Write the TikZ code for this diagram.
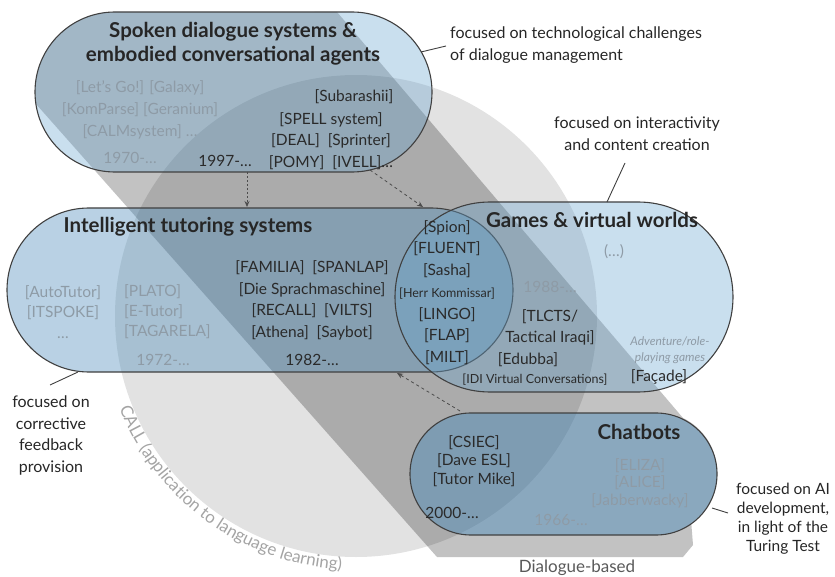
\documentclass[tikz,border=0pt]{standalone}
\usepackage{fontspec}
\setmainfont{Lato}
\usetikzlibrary{arrows.meta}
\usetikzlibrary{decorations.text}

\definecolor{callGray}{HTML}{E2E2E2}
\definecolor{boxBlue}{HTML}{6AA5CF}
\definecolor{deepBlue}{HTML}{4F8DBB}
\definecolor{itemDark}{HTML}{2A2A2A}
\definecolor{itemGray}{HTML}{8E9BA6}
\definecolor{borderGray}{HTML}{404040}
\definecolor{callText}{HTML}{A4A4A4}

\tikzset{
  box/.style={fill=boxBlue, fill opacity=0.36, draw=borderGray, line width=1.1pt},
  deepbox/.style={box, fill=deepBlue, fill opacity=0.4},
  title/.style={font=\fontsize{20.5}{24}\selectfont\bfseries, text=black!85, align=center, inner sep=0pt},
  item/.style={font=\fontsize{15.5}{21.7}\selectfont, text=itemDark, align=center, inner sep=0pt},
  olditem/.style={item, text=itemGray},
  note/.style={font=\fontsize{16}{21.7}\selectfont, text=black!85, align=center, inner sep=0pt},
  pointer/.style={draw=black!75, line width=0.9pt},
  arr/.style={-{Stealth[length=6pt,width=5pt]}, draw=black!70, dashed, line width=0.8pt}
}

\begin{document}
\begin{tikzpicture}[x=1pt, y=-1pt]
	\useasboundingbox (0,0) rectangle (835,577);

	% CALL circle
	\def \callRadius {241};
	\coordinate (callCentre) at (356,316);
	\fill [callGray] (callCentre) circle [radius=\callRadius];
	\path [decorate, decoration={text along path, text align=center,
		text={|\color{callText}\fontsize{17}{17}\selectfont|CALL (application to language learning)}}]
		(callCentre) ++(-198:254) arc [start angle=-198, end angle=-270, radius=254];

	% dialogue-based band
	\fill [black, fill opacity=0.24] (36,104) arc [start angle=-188.6, end angle=-90, radius=80]
		-- (337,12) -- (683,418) arc [start angle=-64, end angle=55, radius=61]
		-- (693,545) -- (683,557) -- (437,557) -- cycle;
	\node [font=\fontsize{17}{17}\selectfont, text=black!65] (dialogueLabel) at (577,568) {Dialogue-based};

	% boxes
	\draw [box, rounded corners=79.9] (35,12) rectangle (432,172);
	\draw [deepbox, rounded corners=81.9] (7,208) rectangle (513,372);
	\draw [box, rounded corners=94.9] (395,202) rectangle (733,392);
	\draw [deepbox, fill opacity=0.48, rounded corners=60.9] (410,413) rectangle (717,535);

	% spoken dialogue systems
	\node [title] (sdsTitle) at (233,44) {Spoken dialogue systems \&\\embodied conversational agents};
	\node [olditem] (sdsOld) at (140,110) {[Let's Go!] [Galaxy]\\{}[KomParse] [Geranium]\\{}[CALMsystem] …};
	\node [olditem] (sdsOldYear) at (130,158) {1970-…};
	\node [item] (sdsSubarashii) at (354,97) {[Subarashii]};
	\node [item] (sdsNew) at (331,141) {[SPELL system]\\{}[DEAL]\ \ [Sprinter]\\{}[POMY]\ \ [IVELL]…};
	\node [item] (sdsNewYear) at (225,161) {1997-…};

	% intelligent tutoring systems
	\node [title] (itsTitle) at (188,227) {Intelligent tutoring systems};
	\node [olditem, font=\fontsize{15.5}{20.5}\selectfont] (itsOldA) at (63,312) {[AutoTutor]\\{}[ITSPOKE]\\…};
	\node [olditem, font=\fontsize{15.5}{20}\selectfont, anchor=west, align=left] (itsOldB) at (124,312) {[PLATO]\\{}[E-Tutor]\\{}[TAGARELA]};
	\node [olditem] (itsOldYear) at (163,360) {1972-…};
	\node [item] (itsNew) at (312,300.5) {[FAMILIA]\ \ [SPANLAP]\\{}[Die Sprachmaschine]\\{}[RECALL]\ \ [VILTS]\\{}[Athena]\ \ [Saybot]};
	\node [item] (itsNewYear) at (312,360) {1982-…};

	% overlap of tutoring and games
	\node [item] (lensItems) at (447,292.5) {[Spion]\\{}[FLUENT]\\{}[Sasha]\\{\fontsize{12.5}{21.7}\selectfont[Herr Kommissar]}\\{}[LINGO]\\{}[FLAP]\\{}[MILT]};

	% games and virtual worlds
	\node [title] (gamesTitle) at (592,220) {Games \& virtual worlds};
	\node [olditem] (gamesOld) at (614,252) {(…)};
	\node [olditem] (gamesOldYear) at (550,287) {1988-…};
	\node [item] (gamesTlcts) at (550,327.5) {[TLCTS/\\Tactical Iraqi]};
	\node [item] (gamesEdubba) at (528,360) {[Edubba]};
	\node [item, font=\fontsize{12.5}{14}\selectfont] (gamesIdi) at (535,380) {[IDI Virtual Conversations]};
	\node [olditem, font=\fontsize{12}{16}\selectfont\itshape] (gamesGenre) at (670,350) {Adventure/role-\\playing games};
	\node [item] (gamesFacade) at (659,377) {[Façade]};

	% chatbots
	\node [title] (chatTitle) at (639,432) {Chatbots};
	\node [item, font=\fontsize{15.5}{18.5}\selectfont] (chatNew) at (474,461) {[CSIEC]\\{}[Dave ESL]\\{}[Tutor Mike]};
	\node [item] (chatNewYear) at (452,513) {2000-…};
	\node [olditem, font=\fontsize{15.5}{17.5}\selectfont] (chatOld) at (640,483) {[ELIZA]\\{}[ALICE]\\{}[Jabberwacky]};
	\node [olditem] (chatOldYear) at (561,520) {1966-…};

	% notes
	\node [note, anchor=west, align=left, font=\fontsize{16}{22}\selectfont] (noteTech) at (450,45) {focused on technological challenges\\of dialogue management};
	\node [note] (noteGames) at (637,134) {focused on interactivity\\and content creation};
	\node [note] (noteFeedback) at (51,435.5) {focused on\\corrective\\feedback\\provision};
	\node [note, font=\fontsize{15.5}{19}\selectfont] (noteAI) at (783,519) {focused on AI\\development,\\in light of the\\Turing Test};

	\coordinate (techEdge) at (421,52);
	\coordinate (techEnd) at (446,46);
	\draw [pointer] (techEdge) -- (techEnd);
	\coordinate (gamesEdge) at (607,202);
	\coordinate (gamesEnd) at (625,163);
	\draw [pointer] (gamesEdge) -- (gamesEnd);
	\coordinate (itsEdge) at (78,372);
	\coordinate (itsEnd) at (50,385);
	\draw [pointer] (itsEdge) -- (itsEnd);
	\coordinate (chatEdge) at (712,508);
	\coordinate (chatEnd) at (728,513);
	\draw [pointer] (chatEdge) -- (chatEnd);

	% influence arrows
	\coordinate (sdsBottom) at (247,172);
	\coordinate (itsTop) at (247,207);
	\draw [arr, dash pattern=on 2pt off 2pt] (sdsBottom) -- (itsTop);
	\coordinate (sdsCorner) at (370,170);
	\coordinate (lensTop) at (423,207);
	\draw [arr] (sdsCorner) -- (lensTop);
	\coordinate (chatCorner) at (460,411);
	\coordinate (lensBottom) at (397,373);
	\draw [arr] (chatCorner) -- (lensBottom);

\end{tikzpicture}
\end{document}
